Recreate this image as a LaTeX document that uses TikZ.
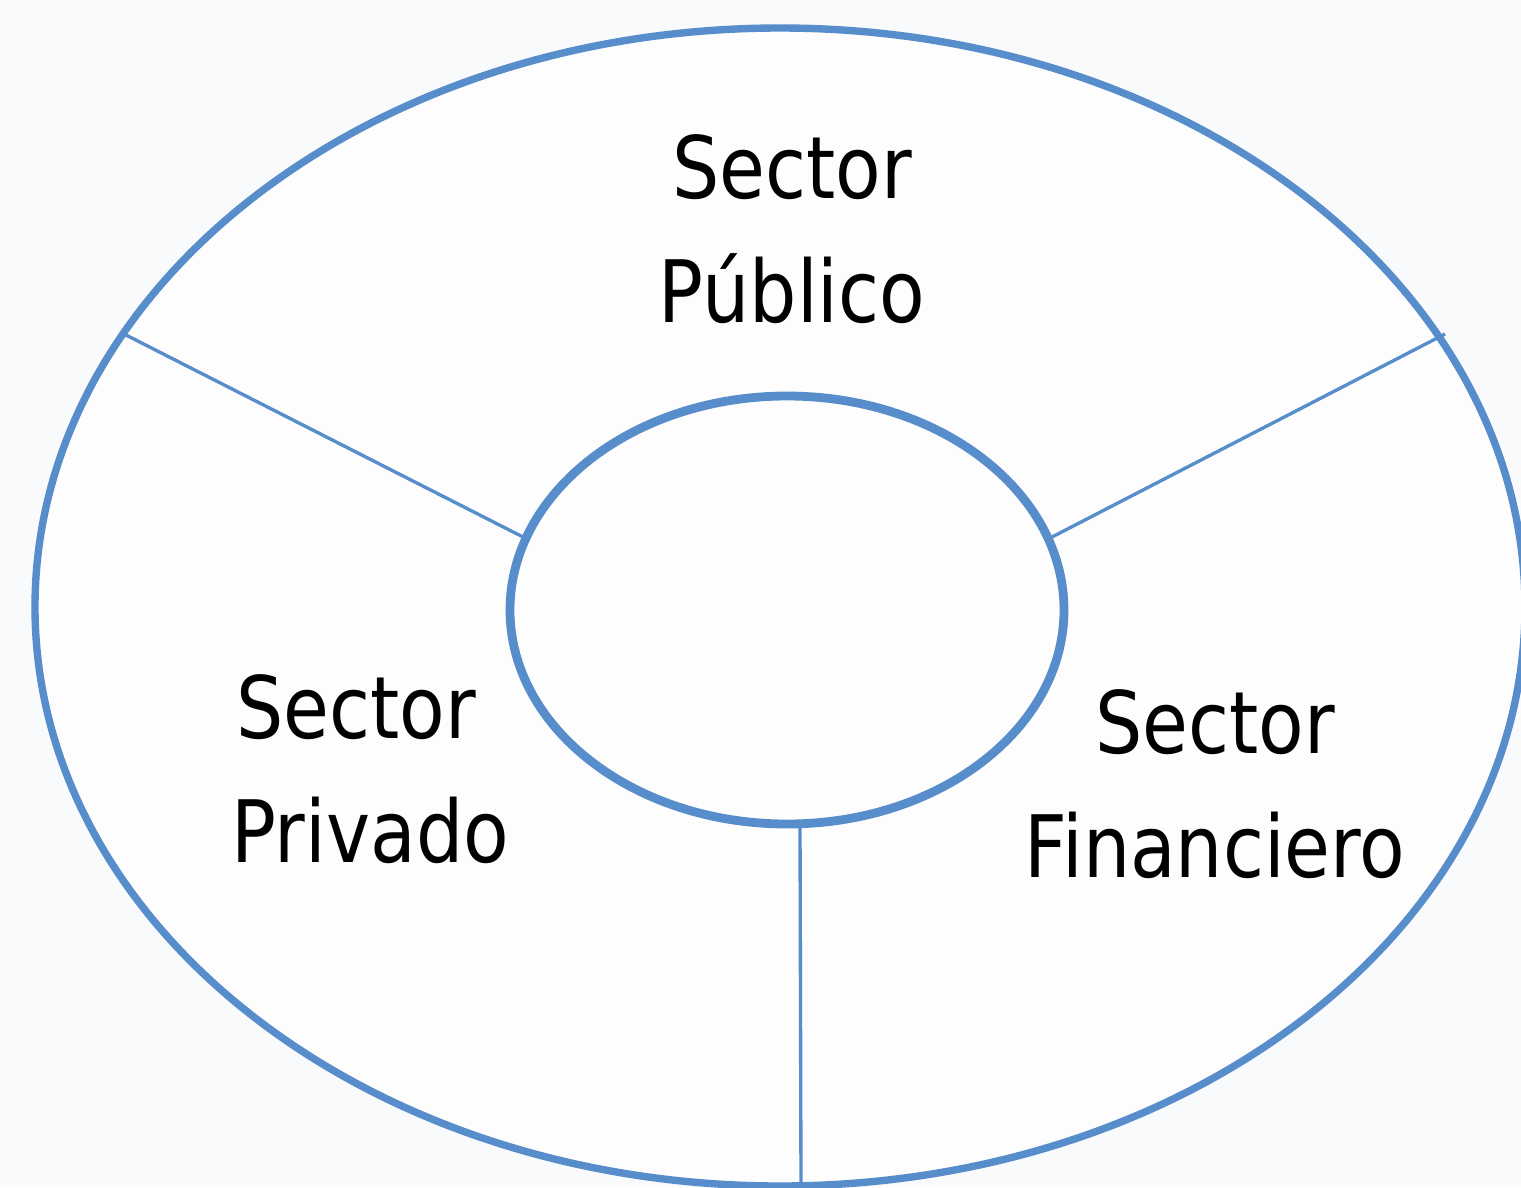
\documentclass[tikz,border=0pt]{standalone}
\usepackage{fontspec}
\setmainfont{DejaVu Sans}[FakeStretch=0.865]
\definecolor{ringblue}{RGB}{88,141,204}
\definecolor{bgcol}{RGB}{249,250,251}
\tikzset{
  ring/.style={draw=ringblue, line width=2.1pt},
  inring/.style={draw=ringblue, line width=2.5pt},
  spoke/.style={draw=ringblue, line width=0.95pt},
  label/.style={anchor=base, align=center, font=\fontsize{24.5}{35.2}\selectfont, text=black, inner sep=0pt}
}
\begin{document}
\begin{tikzpicture}[x=0.01cm,y=-0.01cm]
\fill[bgcol] (0,0) rectangle (1521,1187);
\useasboundingbox (0,0) rectangle (1521,1187);
\fill[white!60!bgcol] (780,607) ellipse [x radius=745, y radius=579];
\coordinate (oc) at (780,607);
\coordinate (ic) at (787,610);
% spokes
\coordinate (oL) at (124,334);
\coordinate (iL) at (523,537);
\coordinate (oR) at (1445,334);
\coordinate (iR) at (1052,537);
\coordinate (iB) at (800,824);
\coordinate (oB) at (801,1186);
\draw[spoke] (oL) -- (iL);
\draw[spoke] (oR) -- (iR);
\draw[spoke] (iB) -- (oB);
\draw[ring] (oc) ellipse [x radius=745, y radius=579];
\draw[inring] (ic) ellipse [x radius=277, y radius=214];
\node[label] (pub) at (792,322) {Sector\\Público};
\node[label] (priv) at (370,862) {Sector\kern0.28cm\\Privado};
\node[label] (fin) at (1215,877) {Sector\\Financiero};
\end{tikzpicture}
\end{document}
